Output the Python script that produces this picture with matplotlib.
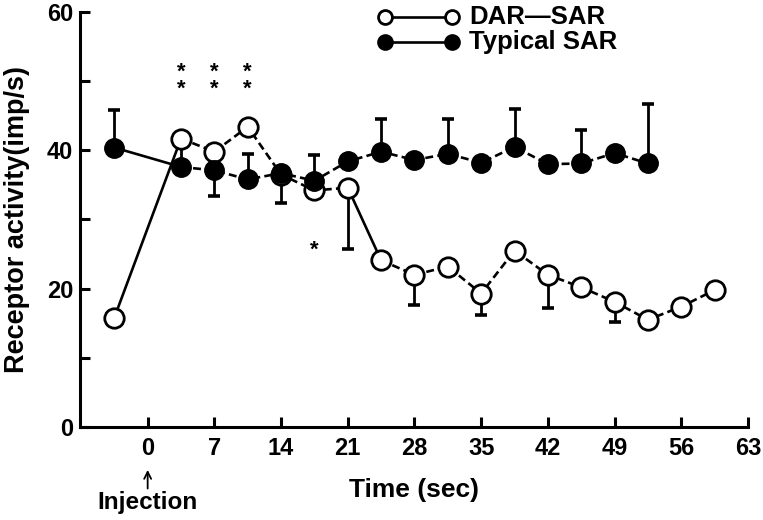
import matplotlib
matplotlib.use("Agg")
import matplotlib.pyplot as plt
import numpy as np

# ---- data ----
time = [-3.5, 3.5, 7, 10.5, 14, 17.5, 21, 24.5, 28, 31.5, 35, 38.5, 42, 45.5, 49, 52.5, 56, 59.5]

dar_sar = [15.8, 41.7, 39.8, 43.4, 36.5, 34.2, 34.6, 24.1, 22.0, 23.2, 19.3, 25.5, 22.0, 20.2, 18.1, 15.5, 17.4, 19.8]
dar_sar_err_low = [0, 0, 6.4, 0, 4.1, 0, 8.8, 0, 4.4, 0, 3.1, 0, 4.8, 0, 2.9, 0, 0, 0]

typical_time = [-3.5, 3.5, 7, 10.5, 14, 17.5, 21, 24.5, 28, 31.5, 35, 38.5, 42, 45.5, 49, 52.5]
typical_sar = [40.4, 37.6, 37.1, 35.8, 36.7, 35.6, 38.4, 39.8, 38.6, 39.5, 38.2, 40.5, 38.0, 38.1, 39.6, 38.1]
typical_err_up = [5.4, 3.9, 0, 3.7, 0, 3.7, 0, 4.8, 0, 5.0, 0, 5.5, 0, 4.8, 0, 8.6]

star_double_times = [3.5, 7, 10.5]
star_single_time = 17.5

x_ticks = [0, 7, 14, 21, 28, 35, 42, 49, 56, 63]
y_ticks = [0, 20, 40, 60]
y_minor = [10, 30, 50]

FONT = "Liberation Sans"
plt.rcParams['font.family'] = [FONT, 'DejaVu Sans']
plt.rcParams['font.weight'] = 'bold'

fig = plt.figure(figsize=(7.63, 5.2), dpi=100)
ax = fig.add_axes([80/763, 93/520, 668/763, 415/520])

lw = 1.9
ms = 14
dash = (0, (3.0, 1.6))

t_d = np.array(time); v_d = np.array(dar_sar); e_d = np.array(dar_sar_err_low)
t_t = np.array(typical_time); v_t = np.array(typical_sar); e_t = np.array(typical_err_up)

# error bars
m = e_d > 0
ax.errorbar(t_d[m], v_d[m], yerr=[e_d[m], np.zeros(m.sum())], fmt='none', ecolor='black',
            elinewidth=2.0, capsize=4.5, capthick=2.6, zorder=1)
m = e_t > 0
ax.errorbar(t_t[m], v_t[m], yerr=[np.zeros(m.sum()), e_t[m]], fmt='none', ecolor='black',
            elinewidth=2.0, capsize=4.5, capthick=2.6, zorder=1)

# DAR-SAR lines
ax.plot(t_d[0:2], v_d[0:2], color='black', lw=lw, zorder=2)
ax.plot(t_d[1:7], v_d[1:7], color='black', lw=lw, ls=dash, zorder=2)
ax.plot(t_d[6:8], v_d[6:8], color='black', lw=lw, zorder=2)
ax.plot(t_d[7:], v_d[7:], color='black', lw=lw, ls=dash, zorder=2)
ax.plot(t_d, v_d, ls='none', marker='o', ms=ms, mfc='white', mec='black', mew=2.0, zorder=3)

# Typical SAR lines
ax.plot(t_t[0:2], v_t[0:2], color='black', lw=lw, zorder=4)
ax.plot(t_t[1:], v_t[1:], color='black', lw=lw, ls=dash, zorder=4)
ax.plot(t_t, v_t, ls='none', marker='o', ms=ms, mfc='black', mec='black', mew=1.0, zorder=5)

# significance stars
for t in star_double_times:
    ax.text(t, 50.0, '*\n*', ha='center', va='center', fontsize=16, fontweight='bold',
            linespacing=0.75)
ax.text(star_single_time, 25.6, '*', ha='center', va='center', fontsize=16, fontweight='bold')

# axes
ax.set_xlim(-7.1, 63)
ax.set_ylim(0, 60)
ax.set_xticks(x_ticks)
ax.set_yticks(y_ticks)
ax.set_yticks(y_minor, minor=True)
for s in ['top', 'right']:
    ax.spines[s].set_visible(False)
for s in ['left', 'bottom']:
    ax.spines[s].set_linewidth(2.2)
ax.tick_params(axis='both', which='major', direction='in', length=7, width=2.2,
               labelsize=17)
ax.tick_params(axis='y', which='minor', direction='in', length=7, width=2.2)
ax.tick_params(axis='x', pad=7)
ax.tick_params(axis='y', pad=5)
for lab in ax.get_xticklabels() + ax.get_yticklabels():
    lab.set_fontweight('bold')

ax.set_xlabel('Time (sec)', fontsize=19, fontweight='bold', labelpad=13)
ax.set_ylabel('Receptor activity(imp/s)', fontsize=19.5, fontweight='bold', labelpad=12)

# injection annotation
ax.annotate('', xy=(0, -5.8), xytext=(0, -9.3), xycoords='data',
            arrowprops=dict(arrowstyle='->,head_length=0.5,head_width=0.25', lw=1.3, color='black'),
            annotation_clip=False)
ax.text(0, -10.9, 'Injection', ha='center', va='center', fontsize=17.5, fontweight='bold', clip_on=False)

# legend (drawn manually)
lx0, lx1 = 385, 452
for yy, fc, lab in [(17, 'white', 'DAR\u2014SAR'), (42, 'black', 'Typical SAR')]:
    yf = 1 - yy/520
    fig.add_artist(plt.Line2D([lx0/763, lx1/763], [yf, yf], color='black', lw=lw))
    fig.add_artist(plt.Line2D([lx0/763, lx1/763], [yf, yf], ls='none', marker='o', ms=10,
                              mfc=fc, mec='black', mew=2.0))
    fig.text(469/763, yf, lab, ha='left', va='center', fontsize=18.5, fontweight='bold')

fig.savefig('out.png', dpi=100)
